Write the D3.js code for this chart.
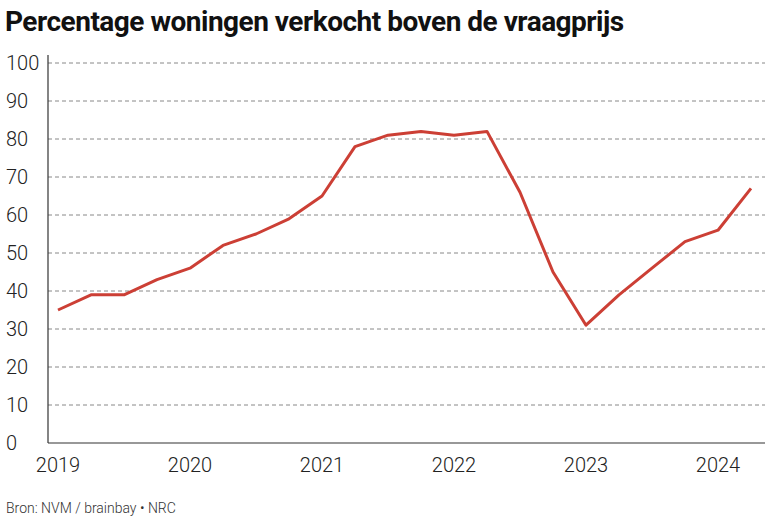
<!DOCTYPE html>
<html><head><meta charset="utf-8">
<script src="https://cdn.jsdelivr.net/npm/d3@7"></script>
<style>
body{margin:0;background:#fff;}
text{font-family:Roboto,sans-serif;}
</style></head>
<body><div class="chart-container"></div>
<script>
var years = ["2019","2020","2021","2022","2023","2024"];
var yTicks = [0,10,20,30,40,50,60,70,80,90,100];
// quarterly values, 2019 Q1 .. 2024 Q2
var values = [35,39,39,43,46,52,55,59,65,78,81,82,81,82,66,45,31,39,46,53,56,67];

var width = 768, height = 523;
var svg = d3.select("div.chart-container").append("svg")
  .attr("width", width).attr("height", height);

var x = d3.scaleLinear().domain([0, 20]).range([58, 718]);
var y = d3.scaleLinear().domain([0, 100]).range([443, 63]);

svg.append("text").attr("x", 5).attr("y", 31)
  .attr("font-size", 28).attr("font-weight", "bold")
  .style("letter-spacing", "-0.5px")
  .attr("fill", "#111").text("Percentage woningen verkocht boven de vraagprijs");

// gridlines
svg.append("g").selectAll("line").data(yTicks.filter(function(d){ return d > 0; }))
  .enter().append("line")
  .attr("x1", 48).attr("x2", 765)
  .attr("y1", function(d){ return y(d); }).attr("y2", function(d){ return y(d); })
  .attr("stroke", "#888").attr("stroke-dasharray", "4,3").attr("stroke-width", 1);

// y labels
svg.append("g").selectAll("text").data(yTicks).enter().append("text")
  .attr("x", 6).attr("y", function(d){ return y(d) + 7; })
  .attr("font-size", 20).attr("font-weight", 300).attr("fill", "#222")
  .text(function(d){ return d; });

// axes lines
svg.append("line").attr("x1", 48).attr("x2", 48).attr("y1", 55).attr("y2", 443)
  .attr("stroke", "#333").attr("stroke-width", 1.2);
svg.append("line").attr("x1", 48).attr("x2", 765).attr("y1", 443).attr("y2", 443)
  .attr("stroke", "#333").attr("stroke-width", 1.2);

// x labels
svg.append("g").selectAll("text").data(years).enter().append("text")
  .attr("x", function(d, i){ return x(i * 4); }).attr("y", 472)
  .attr("text-anchor", "middle").attr("font-size", 20).attr("font-weight", 300)
  .attr("fill", "#222").text(function(d){ return d; });

var line = d3.line().x(function(d, i){ return x(i); }).y(function(d){ return y(d); });
svg.append("path").datum(values).attr("d", line)
  .attr("fill", "none").attr("stroke", "#cc3f35").attr("stroke-width", 3)
  .attr("stroke-linejoin", "round");

svg.append("text").attr("x", 6).attr("y", 513).attr("font-size", 14)
  .attr("font-weight", 300).attr("fill", "#333")
  .text("Bron: NVM / brainbay \u2022 NRC");
</script></body></html>
